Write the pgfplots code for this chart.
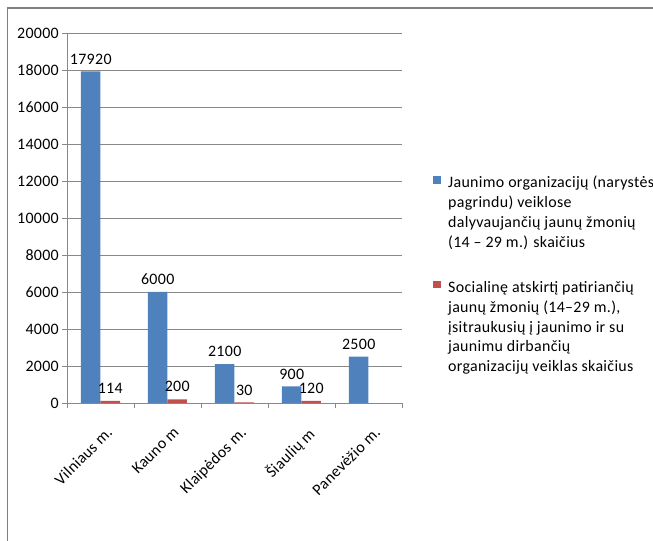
\documentclass[border=0pt]{standalone}
\usepackage{pgfplots}
\pgfplotsset{compat=1.18}
\usepackage{fontspec}
\setmainfont{Carlito}[LetterSpace=2]
\definecolor{cblue}{HTML}{4F81BD}
\definecolor{cred}{HTML}{C0504D}
\definecolor{gridc}{HTML}{888888}
\newcommand{\cf}{\fontsize{16}{20}\selectfont}
\begin{document}
\begin{tikzpicture}
\path[use as bounding box] (0bp,0bp) rectangle (653bp,541bp);
\draw[gray, line width=1.2bp] (7.5bp,0bp) -- (7.5bp,533bp) -- (653bp,533bp);
\begin{axis}[
  at={(67bp,138bp)}, anchor=south west,
  width=335bp, height=370bp, scale only axis,
  ybar=0pt, bar width=19.5bp,
  xmin=-0.5, xmax=4.5, ymin=0, ymax=20000,
  ytick={0,2000,...,20000},
  xtick={0,...,4},
  xticklabels={Vilniaus m.,Kauno m,Klaipėdos m.,Šiaulių m,Panevėžio m.},
  minor xtick={-0.5,0.5,...,4.5},
  major x tick style={draw=none},
  minor x tick style={gridc},
  y tick style={gridc},
  major tick length=5bp, minor tick length=5bp,
  tick align=outside,
  axis lines*=left,
  axis line style={gridc, line width=0.8bp},
  ymajorgrids, grid style={gridc, line width=0.8bp},
  tick label style={font=\cf},
  /pgf/number format/1000 sep={},
  /pgf/number format/assume math mode=true,
  scaled y ticks=false,
  xticklabel style={rotate=45, anchor=north east, inner sep=2bp, xshift=-7bp, yshift=-14bp},
  yticklabel style={inner sep=3bp},
  nodes near coords,
  nodes near coords style={font=\cf, /pgf/number format/1000 sep={}, /pgf/number format/assume math mode=true, inner sep=7bp},
  legend style={at={(1.0925,0.6189)}, anchor=north west, draw=none, fill=none,
    inner sep=0pt, row sep=28bp, column sep=5.5bp, font=\cf,
    cells={anchor=west, align=left, inner sep=0pt}},
]
\addplot[fill=cblue, draw=none,
  legend image code/.code={\fill[cblue] (0bp,29bp) rectangle (7.5bp,36.5bp);}]
  coordinates {(0,17920) (1,6000) (2,2100) (3,900) (4,2500)};
\addplot[fill=cred, draw=none,
  legend image code/.code={\fill[cred] (0bp,39bp) rectangle (7.5bp,46.5bp);}]
  coordinates {(0,114) (1,200) (2,30) (3,120)};
\addlegendentry{{Jaunimo organizacijų (narystės\\pagrindu) veiklose\\dalyvaujančių jaunų žmonių\\(14 – 29 m.) skaičius}}
\addlegendentry{{Socialinę atskirtį patiriančių\\jaunų žmonių (14–29 m.),\\įsitraukusių į jaunimo ir su\\jaunimu dirbančių\\organizacijų veiklas skaičius}}
\end{axis}
\end{tikzpicture}
\end{document}
